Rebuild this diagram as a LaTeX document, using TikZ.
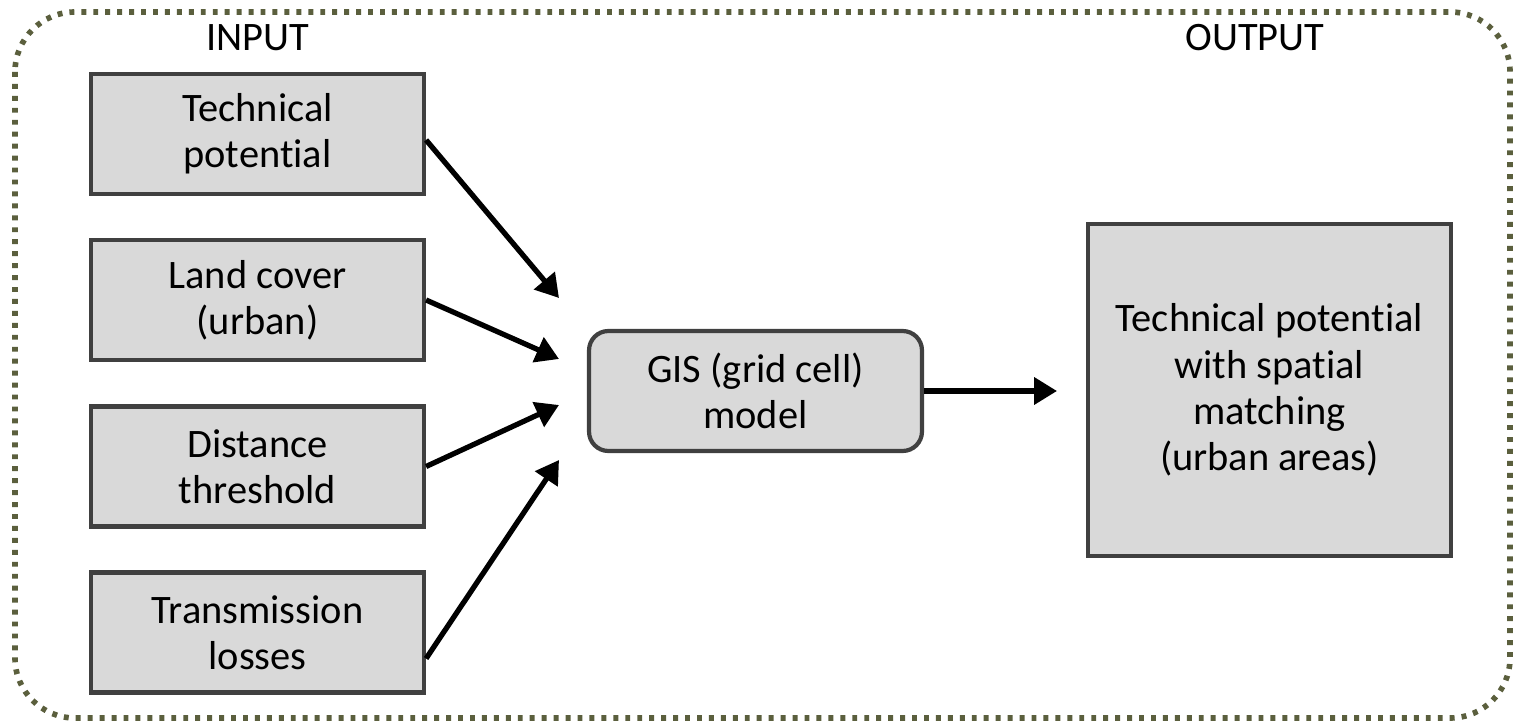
\documentclass[tikz,border=0pt]{standalone}
\usepackage{fontspec}
\setmainfont[Ligatures=NoCommon]{Carlito}
\usetikzlibrary{arrows.meta}

\definecolor{boxfill}{HTML}{D9D9D9}
\definecolor{boxline}{HTML}{404040}
\definecolor{frameline}{HTML}{5B5F3D}

\tikzset{
  databox/.style={draw=boxline, fill=boxfill, line width=2.4pt, align=center,
    minimum width=6.66cm, minimum height=2.4cm, inner sep=0pt,
    font=\fontsize{23}{26.3}\selectfont},
  flow/.style={line width=3pt, -{Triangle[length=13pt,width=15pt]}},
  heading/.style={font=\fontsize{23}{26.3}\selectfont}
}

\begin{document}
\begin{tikzpicture}[x=0.02cm, y=-0.02cm]
            \useasboundingbox (0,0) rectangle (1513,722);
            \draw[frameline, line width=3.2pt, rounded corners=1.2cm,
                  dash pattern=on 2.8pt off 4pt] (15,12) rectangle (1510,718);
            \node[heading] (inlabel) at (258,38) {INPUT};
            \node[heading] (outlabel) at (1255,38) {OUTPUT};
            \node[databox] (tech) at (257.5,134) {Technical\\potential};
            \node[databox] (land) at (257.5,300) {Land cover\\(urban)};
            \node[databox] (dist) at (257.5,466.5) {Distance\\threshold};
            \node[databox] (loss) at (257.5,632.5) {Transmission\\losses};
            \node[databox, rounded corners=11pt] (gis) at (755.5,391) {GIS (grid cell)\\model};
            \node[databox, minimum width=7.26cm, minimum height=6.64cm] (result) at (1269.5,390)
                {Technical potential\\with spatial\\matching\\(urban areas)};
            \coordinate (t1) at (559,298);
            \coordinate (t2) at (559,359);
            \coordinate (t3) at (559,405);
            \coordinate (t4) at (559,460);
            \coordinate (t5) at (1057,391);
            \draw[flow] ([yshift=-0.12cm]tech.east) -- (t1);
            \draw[flow] (land.east) -- (t2);
            \draw[flow] (dist.east) -- (t3);
            \draw[flow] ([yshift=-0.52cm]loss.east) -- (t4);
            \draw[flow] (gis.east) -- (t5);
        \end{tikzpicture}
\end{document}
